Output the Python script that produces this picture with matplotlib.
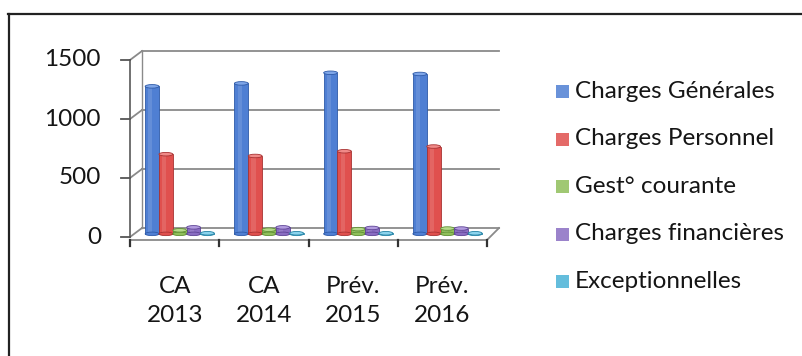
import numpy as np
import matplotlib
matplotlib.use("Agg")
import matplotlib.pyplot as plt
from matplotlib.patches import Ellipse
from matplotlib.lines import Line2D
import matplotlib.transforms as mtrans

plt.rcParams["font.family"] = ["Lato", "DejaVu Sans"]

categories = ["CA\n2013", "CA\n2014", "Prév.\n2015", "Prév.\n2016"]
series = ["Charges Générales", "Charges Personnel", "Gest° courante",
          "Charges financières", "Exceptionnelles"]
charges_generales = [1250, 1275, 1365, 1355]
charges_personnel = [675, 660, 700, 740]
gest_courante = [30, 35, 40, 45]
charges_financieres = [55, 55, 50, 45]
exceptionnelles = [5, 5, 5, 5]
values = [charges_generales, charges_personnel, gest_courante,
          charges_financieres, exceptionnelles]
yticks = [0, 500, 1000, 1500]

COLORS = ["#4F7FD3", "#E0504E", "#8FBF5A", "#8A6DC2", "#49B2D6"]
EDGE = ["#2E5AA8", "#A83232", "#5F8F35", "#5E4495", "#2A86A8"]
TOPS = ["#7FA6E8", "#F08A88", "#B5DA8A", "#B29BDF", "#8CD3EC"]
GRID = "#8a8a8a"
TXT = "#151515"
FS = 17.5
DX, DY = 12, 9  # depth offset in pixels

W, H = 803, 356
fig = plt.figure(figsize=(W / 100, H / 100), dpi=100)
ax = fig.add_axes([130 / W, 1 - 237 / H, (487 - 130) / W, (237 - 60) / H])
ax.set_xlim(-0.5, 3.5)
ax.set_ylim(0, 1500)
for s in ax.spines.values():
    s.set_visible(False)
ax.set_xticks([]); ax.set_yticks([])
ax.patch.set_alpha(0)

back = mtrans.offset_copy(ax.transData, fig=fig, x=DX, y=DY, units="dots")
mid = mtrans.offset_copy(ax.transData, fig=fig, x=DX * 0.5, y=DY * 0.35, units="dots")

# back wall gridlines + diagonals on the side wall
for v in yticks:
    ax.plot([-0.5, 3.5], [v, v], color=GRID, lw=1.3, transform=back, clip_on=False, zorder=1)
    x0, y0 = ax.transData.transform((-0.5, v))
    ax.add_line(Line2D([x0, x0 + DX], [y0, y0 + DY], color=GRID, lw=1.3,
                       transform=None, clip_on=False, zorder=1))
    ax.add_line(Line2D([x0 - 9, x0], [y0, y0], color="#555555", lw=1.3,
                       transform=None, clip_on=False))
    ax.text(-0.5, v, f"{v}", transform=mtrans.offset_copy(ax.transData, fig=fig, x=-29, y=0, units="dots"),
            ha="right", va="center", fontsize=FS, color=TXT)
ax.plot([-0.5, -0.5], [0, 1500], color=GRID, lw=1.0, transform=back, clip_on=False, zorder=1)
ax.plot([-0.5, -0.5], [0, 1500], color="#666666", lw=1.3, clip_on=False, zorder=1)
# floor
x0, y0 = ax.transData.transform((-0.5, 0))
x1, y1 = ax.transData.transform((3.5, 0))
ax.add_line(Line2D([x0, x1, x1 + DX], [y0 - 3, y1 - 3, y1 + DY], color=GRID, lw=1.3,
                   transform=None, clip_on=False, zorder=1))
for k in range(5):
    xt, yt = ax.transData.transform((-0.5 + k, 0))
    ax.add_line(Line2D([xt, xt], [yt - 3, yt - 9], color="#333333", lw=1.6,
                       transform=None, clip_on=False))

# bars as cylinders
bw = 0.155
offsets = [-0.32 + i * 0.155 for i in range(5)]
xs = np.arange(len(categories))
eh = 30
for i, vals in enumerate(values):
    pos = xs + offsets[i]
    ax.bar(pos, vals, width=bw, color=COLORS[i], edgecolor=EDGE[i], linewidth=0.6,
           transform=mid, clip_on=False, zorder=3 + i)
    ax.bar(pos - bw * 0.12, vals, width=bw * 0.3, color="white", alpha=0.12, linewidth=0,
           transform=mid, clip_on=False, zorder=3 + i)
    for px, v in zip(pos, vals):
        ax.add_patch(Ellipse((px, 0), bw, eh, facecolor=COLORS[i], edgecolor=EDGE[i],
                             lw=0.6, transform=mid, clip_on=False, zorder=3 + i))
        ax.add_patch(Ellipse((px, v), bw, eh, facecolor=TOPS[i], edgecolor=EDGE[i],
                             lw=0.6, transform=mid, clip_on=False, zorder=3 + i))

# category labels
for x, lab in zip(xs, categories):
    ax.text(x, 0, lab, transform=mtrans.offset_copy(ax.transData, fig=fig, x=0, y=-39, units="dots"),
            ha="center", va="top", fontsize=FS, color=TXT, linespacing=1.45)

# legend
for i, name in enumerate(series):
    y = 1 - (91 + i * 47.5) / H
    fig.patches.append(plt.Rectangle((556 / W, y - 7 / H), 13 / W, 13 / H, transform=fig.transFigure,
                                     facecolor=COLORS[i], edgecolor="none", alpha=0.85))
    fig.text(575 / W, y, name, ha="left", va="center", fontsize=FS, color=TXT)

# outer frame
fig.add_artist(Line2D([8 / W, 1], [1 - 14 / H, 1 - 14 / H], color="#222222", lw=1.6,
                      transform=fig.transFigure))
fig.add_artist(Line2D([9 / W, 9 / W], [0, 1 - 14 / H], color="#222222", lw=1.6,
                      transform=fig.transFigure))

fig.savefig("out.png", dpi=100)
